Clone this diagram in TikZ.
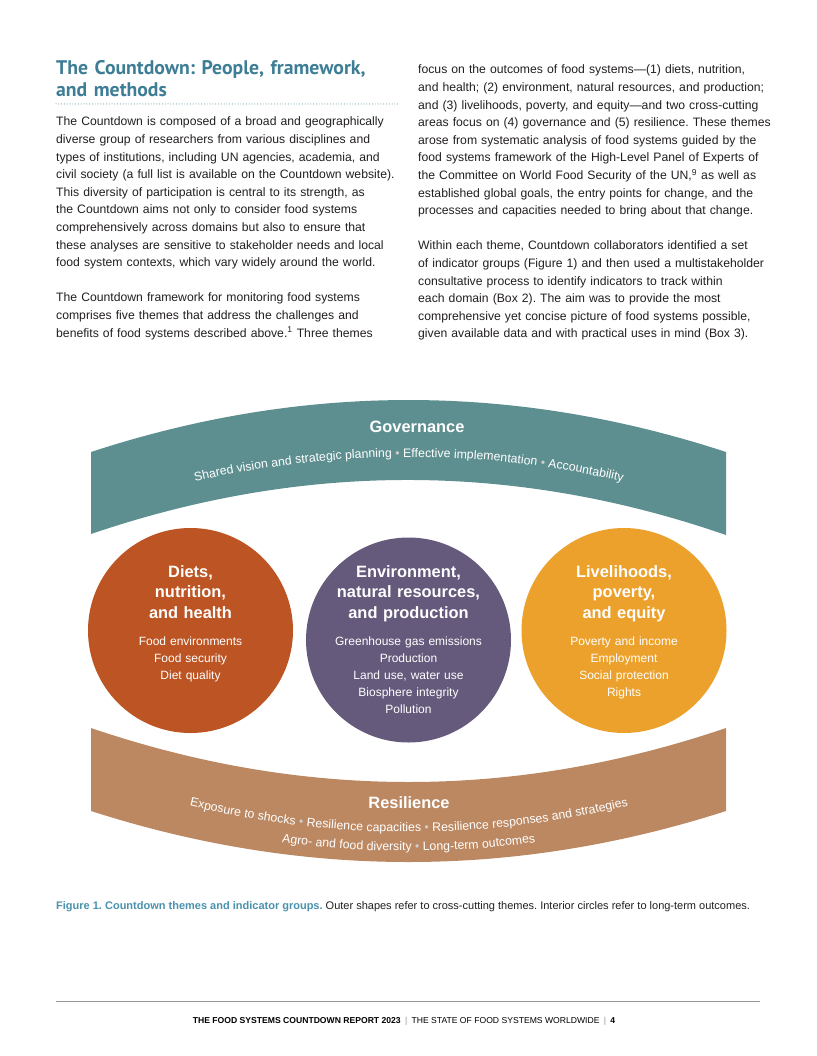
\documentclass[tikz,border=0pt]{standalone}
\usepackage{fontspec}
\setmainfont{Liberation Sans}
\newfontfamily\headfont{PT Sans}
\usepackage{tikz}
\usetikzlibrary{positioning,decorations.text}
\frenchspacing

\definecolor{headteal}{RGB}{61,125,149}
\definecolor{capteal}{RGB}{74,146,174}
\definecolor{bodyink}{RGB}{35,31,32}
\definecolor{govteal}{RGB}{94,143,144}
\definecolor{resitan}{RGB}{188,136,98}
\definecolor{dietrust}{RGB}{189,84,35}
\definecolor{envpurple}{RGB}{101,90,124}
\definecolor{livorange}{RGB}{236,161,44}
\definecolor{dotgray}{RGB}{205,205,205}
\definecolor{ruleline}{RGB}{150,150,150}

\newcommand{\cdbody}{\fontsize{12.2pt}{17.6pt}\selectfont}
\newcommand{\cdhead}{\headfont\bfseries\fontsize{19.7pt}{22pt}\selectfont}
\newcommand{\cdtitle}{\bfseries\fontsize{16.4pt}{20.5pt}\selectfont}
\newcommand{\cditem}{\fontsize{12pt}{17pt}\selectfont}
\newcommand{\cdarc}{\fontsize{12.3pt}{14pt}\selectfont}
\newcommand{\arcw}{\cdarc\color{white}}
\newcommand{\arcdot}{\cdarc\color{dotgray}}
\newcommand{\cdcap}{\fontsize{11pt}{13pt}\selectfont}
\newcommand{\cdfoot}{\fontsize{8.6pt}{11pt}\selectfont}

\begin{document}
\begin{tikzpicture}[
    x=1pt, y=-1pt,
    heading/.style={anchor=base west, align=left, text width=380pt, inner sep=0pt, text=headteal, font=\cdhead},
    bodytext/.style={anchor=base west, align=left, text width=400pt, inner sep=0pt, text=bodyink, font=\cdbody},
    theme/.style={circle, minimum size=205pt, inner sep=0pt},
    themetitle/.style={anchor=base, align=center, text width=200pt, inner sep=0pt, text=white, font=\cdtitle},
    themeitems/.style={anchor=base, align=center, text width=200pt, inner sep=0pt, text=white, font=\cditem},
    bandtitle/.style={anchor=base, inner sep=0pt, text=white, font=\cdtitle},
    arctext/.style={decorate, decoration={text along path, text align=center, text={#1}}}
]
\path[use as bounding box, fill=white] (0,0) rectangle (816,1056);

% Heading and text columns
\node[heading] (heading) at (56,75) {The Countdown: People, framework,\\and methods};
\draw[headteal, line width=1pt, line cap=round, dash pattern=on 0pt off 2.8pt] (56,104) -- (398,104);

\node[bodytext] (leftcol) at (56,126) {The Countdown is composed of a broad and geographically\\
diverse group of researchers from various disciplines and\\
types of institutions, including UN agencies, academia, and\\
civil society (a full list is available on the Countdown website).\\
This diversity of participation is central to its strength, as\\
the Countdown aims not only to consider food systems\\
comprehensively across domains but also to ensure that\\
these analyses are sensitive to stakeholder needs and local\\
food system contexts, which vary widely around the world.\\[17.6pt]
The Countdown framework for monitoring food systems\\
comprises five themes that address the challenges and\\
benefits of food systems described above.\textsuperscript{1} Three themes};

\node[bodytext] (rightcol) at (418,74) {focus on the outcomes of food systems—(1) diets, nutrition,\\
and health; (2) environment, natural resources, and production;\\
and (3) livelihoods, poverty, and equity—and two cross-cutting\\
areas focus on (4) governance and (5) resilience. These themes\\
arose from systematic analysis of food systems guided by the\\
food systems framework of the High-Level Panel of Experts of\\
the Committee on World Food Security of the UN,\textsuperscript{9} as well as\\
established global goals, the entry points for change, and the\\
processes and capacities needed to bring about that change.\\[17.6pt]
Within each theme, Countdown collaborators identified a set\\
of indicator groups (Figure 1) and then used a multistakeholder\\
consultative process to identify indicators to track within\\
each domain (Box 2). The aim was to provide the most\\
comprehensive yet concise picture of food systems possible,\\
given available data and with practical uses in mind (Box 3).};

% Governance band
\fill[govteal] (91,452) .. controls (302.7,382.7) and (514.3,382.7) .. (726,452) -- (726,535) .. controls (514.3,461.8) and (302.7,461.8) .. (91,534) -- cycle;
\node[bandtitle] (govtitle) at (417,432) {Governance};
\path[arctext={|\arcw|Shared vision and strategic planning |\arcdot|•|\arcw| Effective implementation |\arcdot|•|\arcw| Accountability}] (91,511) .. controls (302.7,439) and (514.3,439) .. (726,511);

% Resilience band
\fill[resitan] (91,728) .. controls (302.7,800) and (514.3,800) .. (726,728) -- (726,811) .. controls (514.3,879) and (302.7,879) .. (91,811) -- cycle;
\node[bandtitle] (resititle) at (409,808) {Resilience};
\path[arctext={|\arcw|Exposure to shocks |\arcdot|•|\arcw| Resilience capacities |\arcdot|•|\arcw| Resilience responses and strategies}] (91,777) .. controls (302.7,850.3) and (514.3,850.3) .. (726,777);
\path[arctext={|\arcw|Agro- and food diversity |\arcdot|•|\arcw| Long-term outcomes}] (91,796) .. controls (302.7,869.3) and (514.3,869.3) .. (726,796);

% Outcome circles
\node[theme, fill=dietrust] (diets) at (190.5,630.5) {};
\node[theme, fill=envpurple] (environment) at (408.5,640) {};
\node[theme, fill=livorange] (livelihoods) at (624,630.5) {};

\node[themetitle] (dietstitle) at (190.5,577) {Diets,\\nutrition,\\and health};
\node[themeitems] (dietsitems) at (190.5,645.5) {Food environments\\Food security\\Diet quality};

\node[themetitle] (envtitle) at (408.5,577) {Environment,\\natural resources,\\and production};
\node[themeitems] (envitems) at (408.5,645.5) {Greenhouse gas emissions\\Production\\Land use, water use\\Biosphere integrity\\Pollution};

\node[themetitle] (livtitle) at (624,577) {Livelihoods,\\poverty,\\and equity};
\node[themeitems] (livitems) at (624,645.5) {Poverty and income\\Employment\\Social protection\\Rights};

% Caption and footer
\node[anchor=base west, inner sep=0pt, text=bodyink, font=\cdcap] (caption) at (56,909) {{\color{capteal}\bfseries Figure 1. Countdown themes and indicator groups.} Outer shapes refer to cross-cutting themes. Interior circles refer to long-term outcomes.};

\draw[ruleline, line width=0.8pt] (56,1001) -- (760,1001);
\node[anchor=base, inner sep=0pt, text=black, font=\cdfoot] (footer) at (404,1023) {\textbf{THE FOOD SYSTEMS COUNTDOWN REPORT 2023}\enspace{\color{ruleline}|}\enspace THE STATE OF FOOD SYSTEMS WORLDWIDE\enspace{\color{ruleline}|}\enspace\textbf{4}};

\end{tikzpicture}
\end{document}
